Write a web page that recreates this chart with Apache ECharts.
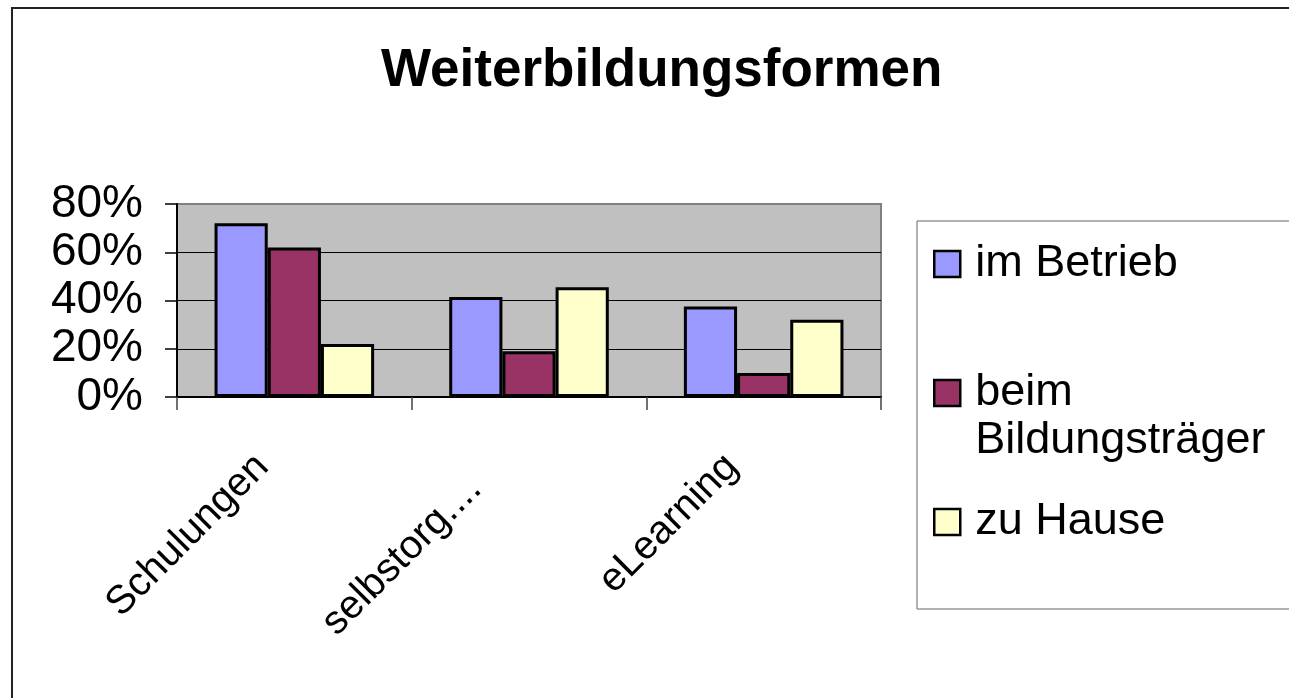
<!DOCTYPE html>
<html>
<head>
<meta charset="utf-8">
<title>Weiterbildungsformen</title>
<script src="https://cdn.jsdelivr.net/npm/echarts@6/dist/echarts.min.js"></script>
<style>
  html, body { margin: 0; padding: 0; background: #fff; }
  #chart { width: 1289px; height: 698px; }
</style>
</head>
<body>
<div id="chart"></div>
<script>
// Daten (in Prozent)
const categories = ['Schulungen', 'selbstorg....', 'eLearning'];
const imBetrieb = [72, 41.5, 37.5];
const beimBildungstraeger = [62, 19, 10];
const zuHause = [22, 45.5, 32];
const seriesNames = ['im Betrieb', 'beim Bildungsträger', 'zu Hause'];
const yTicks = [0, 20, 40, 60, 80];

const FONT = '"Liberation Sans", Arial, sans-serif';

var chartDom = document.getElementById('chart');
var myChart = echarts.init(chartDom);
var option;

function barSeries(name, data, color) {
  return {
    name: name,
    type: 'bar',
    data: data,
    barGap: '0%',
    barCategoryGap: '32%',
    itemStyle: {
      color: color,
      borderColor: '#000',
      borderWidth: 3
    }
  };
}

option = {
  animation: false,
  graphic: [
    {
      // äußerer Rahmen des Diagramms
      type: 'rect',
      z: -10,
      shape: { x: 12, y: 8, width: 1400, height: 800 },
      style: { fill: 'none', stroke: '#222', lineWidth: 2 }
    }
  ],
  title: {
    text: 'Weiterbildungsformen',
    left: 381,
    top: 45,
    padding: 0,
    textStyle: {
      fontFamily: FONT,
      fontSize: 53,
      fontWeight: 'bold',
      color: '#000'
    }
  },
  legend: {
    orient: 'vertical',
    left: 917,
    top: 221,
    padding: [19, 40, 63, 16],
    itemGap: 33,
    itemWidth: 26,
    itemHeight: 26,
    icon: 'rect',
    borderColor: '#666',
    borderWidth: 1,
    itemStyle: { borderColor: '#000', borderWidth: 2.5 },
    textStyle: {
      fontFamily: FONT,
      fontSize: 45,
      lineHeight: 48,
      color: '#000',
      padding: [0, 0, 0, 10]
    },
    // leere erste Zeile, damit das Kästchen auf Höhe von "beim" steht
    formatter: function (name) {
      return name === 'beim Bildungsträger' ? ' \nbeim\nBildungsträger' : name;
    },
    data: seriesNames
  },
  grid: {
    left: 177,
    top: 204,
    right: 408,
    bottom: 301,
    show: true,
    backgroundColor: '#c0c0c0',
    borderColor: '#808080',
    borderWidth: 2
  },
  xAxis: {
    type: 'category',
    data: categories,
    axisLine: { show: true, lineStyle: { color: '#000', width: 2 } },
    axisTick: { show: true, length: 13, lineStyle: { color: '#444', width: 1.5 } },
    axisLabel: {
      interval: 0,
      rotate: 45,
      margin: 32,
      padding: [0, 45, 0, 0],
      fontFamily: FONT,
      fontSize: 40,
      color: '#000',
      formatter: function (v) {
        return v === 'selbstorg....' ? '{wide|' + v + '}' : v;
      },
      rich: {
        wide: {
          fontFamily: FONT,
          fontSize: 40,
          color: '#000',
          padding: [0, 31, 0, 0]
        }
      }
    },
    splitLine: { show: false }
  },
  yAxis: {
    type: 'value',
    min: yTicks[0],
    max: yTicks[yTicks.length - 1],
    interval: 20,
    axisLine: { show: true, lineStyle: { color: '#000', width: 2 } },
    axisTick: { show: true, length: 12, lineStyle: { color: '#000', width: 1.5 } },
    axisLabel: {
      margin: 34,
      fontFamily: FONT,
      fontSize: 46,
      color: '#000',
      formatter: '{value}%'
    },
    splitLine: {
      show: true,
      lineStyle: { color: ['#000', '#000', '#000', '#000', '#808080'], width: 1 }
    }
  },
  series: [
    barSeries(seriesNames[0], imBetrieb, '#9999ff'),
    barSeries(seriesNames[1], beimBildungstraeger, '#993366'),
    barSeries(seriesNames[2], zuHause, '#ffffcc')
  ]
};

option && myChart.setOption(option);
</script>
</body>
</html>
